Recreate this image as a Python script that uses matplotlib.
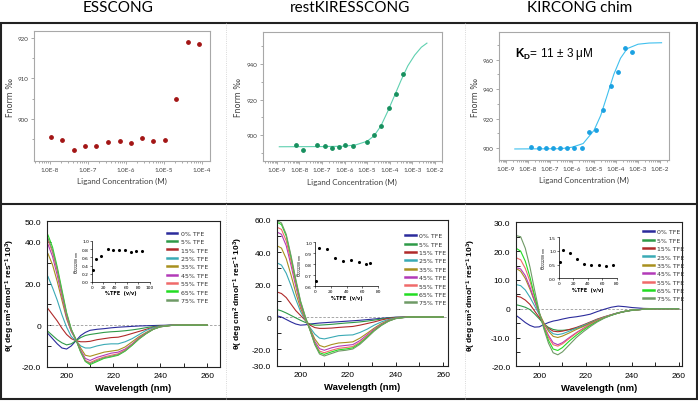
import matplotlib
matplotlib.use("Agg")
import matplotlib.pyplot as plt
from matplotlib.lines import Line2D
from matplotlib.patches import Rectangle

plt.rcParams["mathtext.fontset"] = "custom"
plt.rcParams["mathtext.rm"] = "Liberation Sans"
plt.rcParams["mathtext.it"] = "Liberation Sans:italic"
plt.rcParams["mathtext.bf"] = "Liberation Sans:bold"

# ---- MST binding data (top row) ----
ess_conc = [1.05e-8, 2.1e-8, 4.3e-8, 8.5e-8, 1.66e-7, 3.3e-7, 6.8e-7, 1.35e-6,
            2.6e-6, 5.2e-6, 1.07e-5, 2.1e-5, 4.3e-5, 8.5e-5]
ess_fnorm = [895.6, 894.7, 892.3, 893.2, 893.2, 894.2, 894.5, 894.0, 895.2,
             894.5, 894.8, 905.0, 919.1, 918.4]

rest_conc = [6.9e-9, 1.4e-8, 6.0e-8, 1.3e-7, 2.7e-7, 5.5e-7, 1.1e-6, 2.4e-6,
             1.0e-5, 2.1e-5, 4.3e-5, 9.1e-5, 1.86e-4, 3.9e-4]
rest_fnorm = [894.5, 891.5, 894.2, 893.9, 892.6, 893.5, 894.6, 893.9, 896.0,
              900.0, 905.1, 915.2, 923.1, 934.6]
rest_fit_conc = [1.3e-9, 1e-7, 1e-6, 3.2e-6, 1e-5, 2e-5, 4e-5, 7.9e-5, 1.6e-4,
                 3.2e-4, 6.3e-4, 1.26e-3, 2.5e-3, 4.4e-3]
rest_fit = [893.4, 893.5, 893.7, 894.5, 896.5, 899.5, 905, 913, 922, 931, 939,
            945, 949.5, 951.8]

kir_conc = [1.4e-8, 3.1e-8, 6.6e-8, 1.38e-7, 2.8e-7, 6.2e-7, 1.26e-6, 2.75e-6,
            5.9e-6, 1.23e-5, 2.6e-5, 5.75e-5, 1.2e-4, 2.45e-4, 5.4e-4]
kir_fnorm = [900.5, 899.8, 899.8, 900.2, 900.0, 899.8, 900.0, 899.8, 911.1,
             912.0, 925.6, 941.9, 951.4, 967.8, 965.5]
kir_fit_conc = [2.5e-9, 3.2e-7, 1e-6, 3.2e-6, 1e-5, 2e-5, 4e-5, 7.9e-5, 1.6e-4,
                3.2e-4, 1e-3, 3.2e-3, 1.17e-2]
kir_fit = [899.3, 899.5, 900.5, 903, 912, 922, 936, 950, 961, 967.5, 970.5,
           971.3, 971.5]

# ---- CD spectra (bottom row) ----
wl = [190, 192, 194, 196, 198, 200, 202, 204, 206, 208, 210, 213, 216, 219, 222,
      225, 228, 231, 234, 237, 240, 245, 250, 255, 260]
tfe_labels = ["0% TFE", "5% TFE", "15% TFE", "25% TFE", "35% TFE", "45% TFE",
              "55% TFE", "65% TFE", "75% TFE"]
tfe_colors = ["#2b2b9c", "#2e9a48", "#b02a2a", "#3aaab5", "#a8901e", "#b23ab8",
              "#f06a6a", "#22dd22", "#6f9a66"]

ess_cd = [
    [-2, -4, -6.5, -9, -11, -11.5, -10, -7.5, -5, -3.5, -2.5, -2, -1.7, -1.3, -1, -0.8, -0.6, -0.4, -0.3, -0.2, -0.1, 0, 0, 0, 0],
    [-2, -3, -5, -7, -8.5, -9.5, -9, -7.5, -6, -5, -4.5, -4, -3.5, -3.2, -3, -2.7, -2.3, -1.8, -1.2, -0.7, -0.3, 0, 0, 0, 0],
    [9, 8, 5, 2, -1.5, -4.5, -6.5, -7.5, -8, -8, -7.8, -7, -6.5, -6, -5.8, -5, -4, -3, -2, -1, -0.4, 0, 0, 0, 0],
    [25, 23.5, 18, 12, 5, -1, -5.5, -7.5, -10, -11, -11, -10, -9.3, -9, -9, -8, -6.5, -4.5, -2.5, -1.2, -0.5, 0, 0, 0, 0],
    [35, 34.5, 29, 21, 12, 3, -3, -7, -11, -14.5, -15, -14, -13, -12.5, -12, -10.5, -8, -5.5, -3.5, -1.7, -0.7, -0.1, 0, 0, 0],
    [39, 39, 33, 24, 14, 4, -3, -7, -12, -16, -17, -15.5, -14.5, -13.5, -13, -11.5, -9, -6, -3.8, -1.9, -0.8, -0.1, 0, 0, 0],
    [41, 41, 35, 26, 15, 5, -2.5, -7, -12.5, -17, -18, -16.5, -15.3, -14.5, -13.8, -12, -9.3, -6.3, -4, -2, -0.8, -0.1, 0, 0, 0],
    [44, 43.5, 37.5, 28, 17, 6, -2, -7, -13, -17.5, -19, -17.5, -16, -15.3, -14.5, -12.5, -9.7, -6.6, -4.1, -2, -0.8, -0.1, 0, 0, 0],
    [42.5, 42, 36, 27, 16, 5.5, -2, -7, -12.8, -17.3, -18.5, -17, -15.7, -15, -14.2, -12.3, -9.5, -6.5, -4, -2, -0.8, -0.1, 0, 0, 0],
]
rest_cd = [
    [0.8, 0, -1.5, -3, -4.3, -5, -4.8, -4.3, -4, -3.7, -3.5, -3.2, -2.9, -2.6, -2.3, -2, -1.6, -1.2, -0.8, -0.4, -0.1, 0, 0, 0, 0],
    [4.7, 3.8, 2.5, 1, -0.5, -2, -3.3, -4.3, -5, -5, -4.8, -4.5, -4.1, -3.7, -3.4, -3, -2.5, -1.9, -1.2, -0.6, -0.2, 0, 0, 0, 0],
    [15.5, 14.5, 12, 8, 4, 1, -2, -5, -6.5, -7, -7, -6.8, -6.4, -6.1, -5.8, -5, -4, -3, -1.8, -0.9, -0.3, 0, 0, 0, 0],
    [33.5, 32, 27, 19.5, 11, 3.5, -2, -6.5, -10.5, -13, -13.5, -12.5, -11.5, -11.2, -11, -9.5, -7.5, -5, -3, -1.5, -0.5, 0, 0, 0, 0],
    [44, 42.5, 36, 26, 15, 5.5, -1.5, -7, -13.5, -17.5, -18.5, -17, -16, -15.7, -15.3, -13, -10, -6.8, -4, -2, -0.7, 0, 0, 0, 0],
    [52.5, 51, 44, 32, 19, 7.5, -1, -7.5, -15, -19.5, -20.5, -19, -18, -17.5, -17, -14.5, -11, -7.5, -4.5, -2.2, -0.8, 0, 0, 0, 0],
    [55.5, 54, 47, 34.5, 21, 8.5, -0.5, -8, -16, -21, -22, -20.5, -19.3, -18.8, -18.2, -15.5, -11.8, -8, -4.8, -2.4, -0.9, 0, 0, 0, 0],
    [58.5, 57, 50, 37, 22.5, 9.5, 0, -8, -16.5, -22, -23, -21.5, -20.2, -19.7, -19, -16.2, -12.3, -8.3, -5, -2.5, -0.9, 0, 0, 0, 0],
    [59.5, 58, 51, 38, 23.5, 10, 0.5, -8, -17, -22.8, -24, -22.5, -21, -20.5, -19.7, -16.8, -12.8, -8.6, -5.2, -2.6, -1, -0.1, 0, 0, 0],
]
kir_cd = [
    [-2.3, -3.5, -4.8, -5.8, -6.4, -6.3, -5.5, -4.8, -4.3, -4, -3.6, -3.1, -2.8, -2.4, -1.9, -1, -0.2, 0.5, 0.9, 0.7, 0.4, 0.1, 0, 0, 0],
    [1.4, 1, 0.5, -0.3, -1.8, -3.5, -5.3, -6.5, -7.2, -7.5, -7.5, -7.3, -6.8, -6, -5, -4, -3, -2.2, -1.5, -1, -0.6, -0.2, 0, 0, 0],
    [4.4, 4, 3, 1.5, -0.8, -3, -5.3, -6.8, -7.8, -8, -7.8, -7.2, -6.5, -5.6, -4.6, -3.6, -2.8, -2.1, -1.4, -0.9, -0.5, -0.2, 0, 0, 0],
    [8.4, 8, 6.5, 4, 1, -2, -5, -7.3, -8.7, -9, -8.7, -7.8, -6.8, -5.8, -4.8, -3.8, -2.9, -2.1, -1.4, -0.9, -0.5, -0.2, 0, 0, 0],
    [14, 13, 10.5, 6.8, 2.5, -1.5, -5, -7.8, -9.6, -10, -9.5, -8.4, -7.2, -6.2, -5, -4, -3, -2.2, -1.5, -0.9, -0.5, -0.2, 0, 0, 0],
    [14.3, 13.8, 11.5, 7.5, 2.8, -1.8, -5.8, -9.3, -11.8, -12.5, -11.8, -10, -8.3, -6.8, -5.4, -4.2, -3.1, -2.2, -1.5, -0.9, -0.5, -0.2, 0, 0, 0],
    [17.7, 17, 14, 9.5, 4, -1.5, -6, -10, -12.5, -13, -12.2, -10.3, -8.5, -7, -5.5, -4.2, -3.1, -2.2, -1.5, -0.9, -0.5, -0.2, 0, 0, 0],
    [21, 20, 16.5, 11, 4.5, -1.5, -6.5, -11, -14, -14.5, -13.5, -11.2, -9.2, -7.4, -5.8, -4.4, -3.2, -2.3, -1.5, -0.9, -0.5, -0.2, 0, 0, 0],
    [25.4, 25, 21, 14.5, 6.5, -1, -7, -12, -15.3, -16, -15, -12.5, -10, -8, -6.2, -4.6, -3.3, -2.3, -1.5, -0.9, -0.5, -0.2, 0, 0, 0],
]

# ---- insets: theta 222/208 ratio vs %TFE ----
ess_tfe = [1, 7, 16, 27, 37, 47, 57, 67, 77, 87]
ess_ratio = [0.30, 0.55, 0.63, 0.81, 0.77, 0.78, 0.77, 0.74, 0.76, 0.76]
rest_tfe = [1, 5, 15, 25, 35, 45, 55, 65, 70]
rest_ratio = [0.65, 0.95, 0.94, 0.86, 0.83, 0.84, 0.82, 0.80, 0.81]
kir_tfe = [1, 5, 15, 25, 35, 45, 55, 65, 75]
kir_ratio = [0.60, 1.05, 0.93, 0.72, 0.54, 0.49, 0.48, 0.46, 0.48]

W, H = 698, 402


def box(l, t, r, b):
    return [l / W, (H - b) / H, (r - l) / W, (b - t) / H]


fig = plt.figure(figsize=(6.98, 4.02), dpi=100)

# panel frame
fig.add_artist(Rectangle((1 / W, 2 / H), 696 / W, 376 / H, fill=False,
                         lw=1.5, ec="#222222", transform=fig.transFigure))
fig.add_artist(Line2D([1 / W, 697 / W], [(H - 205) / H] * 2, lw=1.5,
                      color="#222222", transform=fig.transFigure))
for xv in [226, 465]:
    fig.add_artist(Line2D([xv / W] * 2, [2 / H, (H - 24) / H], lw=0.6,
                          color="#cccccc", ls=":", transform=fig.transFigure))

for txt, xc in [("ESSCONG", 118), ("restKIRESSCONG", 350), ("KIRCONG chim", 580)]:
    fig.text(xc / W, (H - 8) / H, txt, ha="center", va="center",
             fontsize=11, family="Lato")

gray = "#404040"


def mst_axes(rect, ylim, xlim, decades, yticks):
    ax = fig.add_axes(rect)
    ax.set_xscale("log")
    ax.set_xlim(*xlim)
    ax.set_ylim(*ylim)
    for s in ax.spines.values():
        s.set_color("#a8a8a8")
        s.set_linewidth(0.8)
    ax.set_xticks([10.0 ** d for d in decades])
    ax.set_xticklabels(["1.0E%d" % d for d in decades])
    ax.set_yticks(yticks)
    ax.tick_params(which="both", direction="out", color="#888888",
                   labelcolor=gray, labelsize=4.5, length=2, width=0.5, pad=2)
    ax.tick_params(which="minor", length=1.2)
    for lab in ax.get_xticklabels() + ax.get_yticklabels():
        lab.set_family("Lato")
    ax.set_xlabel("Ligand Concentration (M)", fontsize=5.8, color=gray,
                  family="Lato", labelpad=4)
    ax.set_ylabel("Fnorm ‰", fontsize=5.8, color=gray, family="DejaVu Sans",
                  labelpad=2)
    return ax


a1 = mst_axes(box(34, 32, 210, 162), (889.6, 921.7), (10 ** -8.42, 10 ** -3.79),
              range(-8, -3), [900, 910, 920])
a1.set_yticks([895, 905, 915], minor=True)
a1.scatter(ess_conc, ess_fnorm, s=6, color="#a31515", zorder=3)

a2 = mst_axes(box(262.7, 33.3, 442, 162.3), (885.2, 957.9), (10 ** -9.62, 10 ** -1.69),
              range(-9, -1), [900, 920, 940])
a2.set_yticks([890, 910, 930, 950], minor=True)
a2.plot(rest_fit_conc, rest_fit, color="#5fd0b0", lw=0.8)
a2.scatter(rest_conc, rest_fnorm, s=6, color="#17905e", zorder=3)

a3 = mst_axes(box(499, 33.3, 669.3, 161), (891.8, 978.6), (10 ** -9.32, 10 ** -1.58),
              range(-9, -1), [900, 920, 940, 960])
a3.set_yticks([910, 930, 950, 970], minor=True)
a3.plot(kir_fit_conc, kir_fit, color="#40c0ee", lw=0.8)
a3.scatter(kir_conc, kir_fnorm, s=6, color="#1ba1e2", zorder=3)
a3.text(0.094, 0.838, r"$\mathbf{K_D}$= 11 ± 3 μM", transform=a3.transAxes,
        fontsize=8.5, va="center", ha="left", family="Liberation Sans")

ylab = (r"θ( deg cm$^{\mathbf{2}}$ dmol$^{\mathbf{-1}}$ res$^{\mathbf{-1}}$ "
        r"10$^{\mathbf{3}}$)")


def cd_axes(rect, xlim, ylim, yticks, ylabels, curves, leg_xy, lab_x):
    ax = fig.add_axes(rect)
    for s in ax.spines.values():
        s.set_color("#222222")
        s.set_linewidth(0.8)
    ax.axhline(0, color="#999999", lw=0.6, ls=(0, (3, 2)))
    for ys, c, lab in zip(curves, tfe_colors, tfe_labels):
        ax.plot(wl, ys, color=c, lw=0.8, label=lab)
    ax.set_xlim(*xlim)
    ax.set_ylim(*ylim)
    ax.set_xticks([200, 220, 240, 260])
    ax.set_xticks([210, 230, 250], minor=True)
    ax.set_yticks(yticks)
    ax.set_yticklabels(ylabels)
    ax.tick_params(which="both", direction="in", labelsize=6, length=3,
                   width=0.6, pad=4)
    ax.tick_params(which="minor", length=3)
    for lab in ax.get_xticklabels() + ax.get_yticklabels():
        lab.set_family("Liberation Sans")
    ax.set_xlabel("Wavelength (nm)", fontsize=6.8, fontweight="bold",
                  family="Liberation Sans", labelpad=3)
    ax.set_ylabel(ylab, fontsize=6, fontweight="bold", family="Liberation Sans")
    ax.yaxis.set_label_coords(lab_x, 0.5)
    leg = ax.legend(loc="upper left", bbox_to_anchor=leg_xy, frameon=False,
                    fontsize=4.5, handlelength=1.7, handletextpad=0.6,
                    labelspacing=0.48, borderpad=0, borderaxespad=0)
    for ln in leg.get_lines():
        ln.set_linewidth(1.8)
    for t in leg.get_texts():
        t.set_color("#333333")
    return ax


cd_axes(box(46.7, 222.2, 220, 367.7), (191.5, 265.5), (-20, 50),
        [-20, -10, 0, 10, 20, 30, 40, 50],
        ["-20.0", "", "0", "", "20.0", "", "40.0", "50.0"], ess_cd,
        (0.692, 0.936), -0.171)
cd_axes(box(276.7, 220.7, 448, 366.7), (190, 262), (-30, 60),
        [-30, -20, -10, 0, 10, 20, 30, 40, 50, 60],
        ["-30.0", "-20.0", "", "0", "", "20.0", "", "40.0", "", "60.0"], rest_cd,
        (0.749, 0.909), -0.185)
cd_axes(box(516, 223.3, 682, 367.3), (190, 261.5), (-20, 30),
        [-20, -15, -10, -5, 0, 5, 10, 15, 20, 25, 30],
        ["-20.0", "", "-10.0", "", "0", "", "10.0", "", "20.0", "", "30.0"], kir_cd,
        (0.765, 0.953), -0.229)


def inset(rect, xs, ys, xlim, ylim, xticks, yticks, fmt):
    ax = fig.add_axes(rect)
    ax.scatter(xs, ys, s=1.5, color="black", zorder=3)
    ax.set_xlim(*xlim)
    ax.set_ylim(*ylim)
    ax.set_xticks(xticks)
    ax.set_yticks(yticks)
    ax.set_yticklabels([fmt % v for v in yticks])
    ax.spines["top"].set_visible(False)
    ax.spines["right"].set_visible(False)
    for s in ["left", "bottom"]:
        ax.spines[s].set_linewidth(0.5)
    ax.tick_params(labelsize=3.2, length=1.2, width=0.4, pad=1)
    ax.set_xlabel("%TFE  (v/v)", fontsize=3.6, fontweight="bold", labelpad=1)
    ax.set_ylabel(r"θ$_{222/208\,nm}$", fontsize=3.6, labelpad=1)
    ax.patch.set_alpha(0)
    return ax


inset(box(92, 242, 149.5, 283), ess_tfe, ess_ratio, (0, 100), (0, 1.0),
      [0, 20, 40, 60, 80, 100], [0, 0.2, 0.4, 0.6, 0.8, 1.0], "%.1f")
inset(box(315, 243.3, 378.3, 287.3), rest_tfe, rest_ratio, (0, 80), (0.6, 1.0),
      [0, 20, 40, 60, 80], [0.6, 0.7, 0.8, 0.9, 1.0], "%.1f")
inset(box(559, 238.3, 616.7, 279.3), kir_tfe, kir_ratio, (0, 80), (0, 1.5),
      [0, 20, 40, 60, 80], [0, 0.5, 1.0, 1.5], "%.1f")

fig.savefig("out.png", dpi=100)
